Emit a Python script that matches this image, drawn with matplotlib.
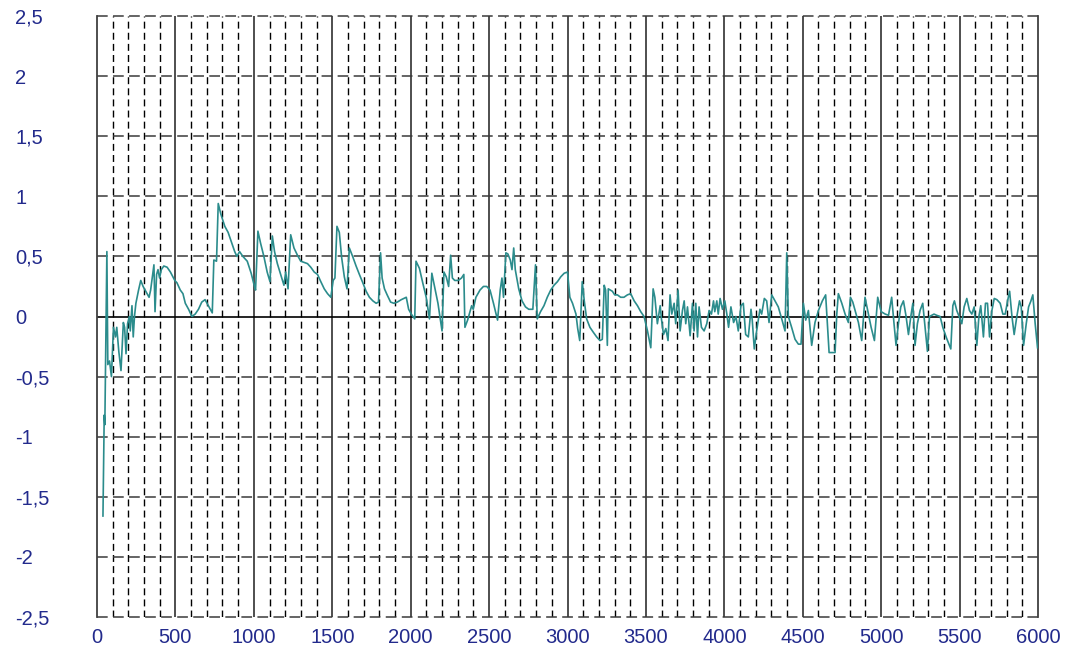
import numpy as np
import matplotlib.pyplot as plt

plt.rcParams['font.family'] = ['Liberation Sans', 'DejaVu Sans']

# Signal
t = [38, 46, 50, 63, 69, 80, 92, 105, 118, 126, 139, 153, 168, 176, 185, 195, 206, 212, 223, 231,
     239, 248, 265, 279, 294, 311, 332, 342, 353, 363, 370, 380, 389, 399, 410, 426, 447, 468, 496, 510,
     531, 548, 563, 584, 605, 626, 647, 668, 689, 710, 735, 745, 762, 773, 790, 815, 836, 857, 878, 892,
     909, 930, 958, 983, 1004,
     1011, 1026, 1043, 1064, 1085, 1103, 1118, 1132, 1150, 1171, 1192, 1203, 1218, 1235, 1256, 1278,
     1299, 1320, 1342, 1363, 1385, 1406, 1427, 1449, 1470, 1491, 1506, 1517, 1530, 1545, 1560, 1577,
     1594, 1609, 1630, 1652, 1673, 1695, 1716, 1737, 1759, 1780, 1795, 1808, 1818, 1833, 1850, 1872,
     1893, 1915, 1940, 1972, 1987, 2004, 2026,
     2034, 2056, 2077, 2099, 2120, 2135, 2152, 2174, 2200, 2212, 2227, 2242, 2255, 2266, 2281, 2303,
     2324, 2339, 2346, 2363, 2378, 2389, 2399, 2416, 2442, 2464, 2485, 2506, 2528, 2554, 2571, 2582,
     2592, 2607, 2620, 2635, 2646, 2657, 2667, 2689, 2710, 2732, 2753, 2779, 2796, 2807, 2828, 2850,
     2871, 2893, 2914, 2936, 2957, 2979, 3000, 3015, 3032, 3054, 3065, 3078,
     3094, 3107, 3122, 3143, 3164, 3186, 3207, 3222, 3234, 3243, 3254, 3260, 3273, 3286, 3301, 3318,
     3339, 3360, 3382, 3403, 3425, 3446, 3467, 3488, 3510, 3531, 3546, 3557, 3573, 3591, 3599, 3612,
     3627, 3641, 3654, 3665, 3680, 3690, 3705, 3718, 3733, 3744, 3754, 3765, 3782, 3797, 3807, 3818,
     3829, 3839, 3854, 3871, 3888, 3903, 3918, 3931, 3939, 3952, 3961, 3973, 3988, 4003, 4016, 4027,
     4042, 4059, 4074, 4089,
     4106, 4121, 4136, 4153, 4170, 4178, 4191, 4206, 4227, 4238, 4255, 4270, 4285, 4302, 4323, 4344,
     4366, 4387, 4398, 4408, 4429, 4451, 4472, 4489, 4504, 4519, 4536, 4557, 4578, 4600, 4625, 4646,
     4668, 4689, 4706, 4717, 4727, 4749, 4770, 4791, 4804, 4819, 4834, 4855, 4876, 4897, 4914, 4936,
     4957, 4978, 5000, 5026, 5047,
     5067, 5082, 5095, 5110, 5125, 5142, 5159, 5174, 5189, 5202, 5216, 5231, 5248, 5265, 5280, 5295,
     5308, 5322, 5337, 5354, 5376, 5393, 5414, 5435, 5444, 5457, 5467, 5482, 5497, 5514, 5529, 5546,
     5563, 5578, 5593, 5610, 5623, 5635, 5652, 5665, 5678, 5691, 5706, 5721, 5738, 5759, 5776, 5791,
     5806, 5819, 5834, 5848, 5865, 5882, 5893, 5908, 5925, 5940, 5955, 5967, 5982, 5997]

v = [-1.66, -0.82, -0.90, 0.54, -0.40, -0.37, -0.50, -0.09, -0.17, -0.09, -0.29, -0.45, -0.05, -0.09, -0.31, -0.06,
     0.0, -0.12, 0.09, -0.17, 0.0, 0.11, 0.22, 0.30, 0.25, 0.21, 0.16, 0.22, 0.33, 0.43, 0.04, 0.35,
     0.39, 0.32, 0.39, 0.42, 0.41, 0.37, 0.30, 0.28, 0.22, 0.19, 0.11, 0.06, 0.0, 0.02, 0.06, 0.12,
     0.14, 0.09, 0.03, 0.47, 0.46, 0.94, 0.85, 0.75, 0.70, 0.62, 0.54, 0.50, 0.54, 0.50, 0.46, 0.36,
     0.25,
     0.22, 0.71, 0.61, 0.50, 0.37, 0.29, 0.67, 0.54, 0.44, 0.35, 0.26, 0.37, 0.23, 0.68, 0.57, 0.51,
     0.46, 0.45, 0.44, 0.41, 0.37, 0.35, 0.29, 0.23, 0.19, 0.16, 0.30, 0.32, 0.75, 0.70, 0.49, 0.33,
     0.23, 0.57, 0.50, 0.42, 0.35, 0.28, 0.21, 0.16, 0.13, 0.11, 0.12, 0.53, 0.32, 0.23, 0.18, 0.12,
     0.11, 0.12, 0.14, 0.16, 0.06, 0.02, -0.02,
     0.46, 0.40, 0.28, 0.16, -0.02, 0.36, 0.25, 0.11, -0.12, 0.37, 0.33, 0.25, 0.51, 0.32, 0.30, 0.30,
     0.32, 0.35, -0.09, -0.03, 0.04, 0.09, 0.06, 0.16, 0.22, 0.25, 0.25, 0.22, 0.11, -0.03, 0.22, 0.32,
     0.16, 0.53, 0.52, 0.47, 0.39, 0.57, 0.39, 0.23, 0.13, 0.08, 0.06, 0.06, 0.43, -0.02, 0.04, 0.09,
     0.16, 0.22, 0.26, 0.29, 0.33, 0.36, 0.37, 0.16, 0.11, 0.02, -0.10, -0.20,
     0.29, 0.13, -0.02, -0.09, -0.13, -0.17, -0.20, -0.19, 0.26, 0.22, -0.24, 0.23, 0.22, 0.21, 0.18, 0.18,
     0.16, 0.16, 0.18, 0.19, 0.13, 0.09, 0.04, 0.0, -0.12, -0.26, 0.23, 0.16, -0.06, 0.09, -0.02, -0.15,
     -0.10, -0.20, 0.18, 0.02, 0.11, -0.06, 0.22, -0.12, 0.05, 0.13, -0.06, 0.08, -0.16, 0.11, -0.12, 0.11,
     -0.17, 0.08, -0.09, -0.12, -0.06, 0.05, 0.02, 0.13, 0.04, 0.13, 0.02, 0.15, 0.06, 0.13, 0.02, -0.09,
     0.08, -0.05, 0.0, -0.12,
     0.09, 0.11, -0.15, -0.17, 0.06, -0.03, -0.27, -0.12, 0.06, 0.02, 0.15, 0.13, -0.05, 0.18, 0.13, 0.08,
     -0.02, -0.12, 0.53, 0.0, -0.09, -0.19, -0.23, -0.23, 0.11, -0.03, 0.05, -0.24, -0.05, 0.05, 0.13, 0.18,
     -0.30, -0.30, -0.30, 0.02, 0.19, 0.11, 0.02, -0.05, 0.16, 0.12, 0.05, -0.05, -0.20, 0.16, 0.05, -0.09,
     -0.20, 0.16, 0.04, 0.02, 0.01,
     0.16, -0.06, -0.24, -0.06, 0.08, 0.13, 0.0, -0.15, 0.0, 0.11, -0.24, -0.06, 0.05, 0.11, -0.09, -0.29,
     0.0, 0.01, 0.02, 0.01, 0.0, -0.09, -0.17, -0.24, -0.27, 0.09, 0.13, 0.05, 0.0, -0.06, 0.08, 0.15,
     0.05, 0.02, 0.08, -0.24, 0.0, 0.09, -0.17, 0.11, 0.11, -0.17, 0.05, 0.15, 0.14, 0.11, 0.02, 0.02,
     0.13, 0.21, 0.0, -0.15, 0.0, 0.13, 0.08, -0.24, -0.06, 0.08, 0.13, 0.18, -0.06, -0.26]

y_ticks = [-2.5, -2, -1.5, -1, -0.5, 0, 0.5, 1, 1.5, 2, 2.5]
y_labels = ['-2,5', '-2', '-1,5', '-1', '-0,5', '0', '0,5', '1', '1,5', '2', '2,5']
x_ticks = list(range(0, 6001, 500))

label_col = '#222a8c'

fig = plt.figure(figsize=(10.85, 6.51), dpi=100)
ax = fig.add_axes([97 / 1085, 1 - 617 / 651, 941 / 1085, 601 / 651])

ax.set_xlim(0, 6000)
ax.set_ylim(-2.5, 2.5)

# grid: dashed minor verticals, solid majors, dashed horizontals
for xm in range(100, 6000, 100):
    if xm % 500:
        ax.axvline(xm, color='black', lw=1.0, ls=(0, (5, 3)), zorder=1)
for xm in range(500, 6000, 500):
    ax.axvline(xm, color='#404040', lw=1.3, zorder=1)
for yv in y_ticks:
    if yv != 0:
        ax.axhline(yv, color='#3a3a3a', lw=1.1, ls=(0, (7, 3.5)), zorder=1, clip_on=False)
ax.axhline(0, color='black', lw=1.2, zorder=2)

ax.plot(t, v, color='#2b8c8c', lw=1.2, zorder=3)

for s in ['top', 'bottom']:
    ax.spines[s].set_visible(False)
for s in ['left', 'right']:
    ax.spines[s].set_color('#404040')
    ax.spines[s].set_linewidth(1.3)

ax.set_xticks(x_ticks)
ax.set_xticklabels([str(x) for x in x_ticks])
ax.set_yticks(y_ticks)
ax.set_yticklabels(y_labels)
ax.tick_params(length=0, labelsize=14.5, labelcolor=label_col)
ax.tick_params(axis='x', pad=8)
ax.tick_params(axis='y', pad=59)
for lab in ax.get_yticklabels():
    lab.set_horizontalalignment('left')

fig.savefig('out.png', dpi=100)
